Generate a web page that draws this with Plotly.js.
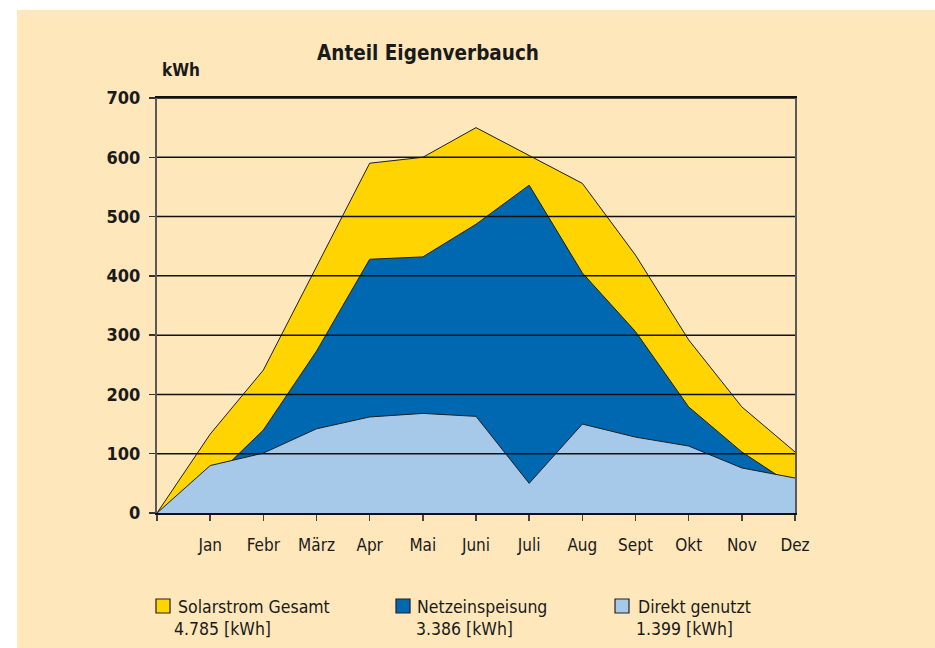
<!DOCTYPE html>
<html>
<head>
<meta charset="utf-8">
<script src="https://cdn.plot.ly/plotly-3.0.1.min.js"></script>
<style>
  html, body { margin: 0; padding: 0; background: #ffffff; }
  #wrap { position: absolute; left: 17px; top: 10px; width: 918px; height: 638px; background: #FEE7BA; }
  #chart { width: 918px; height: 638px; }
</style>
</head>
<body>
<div id="wrap"><div id="chart"></div></div>
<script>
// ---- data ----
const months = ['Jan', 'Febr', 'März', 'Apr', 'Mai', 'Juni', 'Juli', 'Aug', 'Sept', 'Okt', 'Nov', 'Dez'];
const solarGesamt     = [133, 241, 415, 590, 600, 650, 603, 556, 435, 292, 179, 103];
const netzeinspeisung = [ 53, 140, 273, 428, 432, 487, 553, 405, 306, 179, 103,  44];
const direktGenutzt   = [ 80, 101, 142, 162, 168, 163,  50, 150, 128, 113,  76,  59];
const seriesNames  = ['Solarstrom Gesamt', 'Netzeinspeisung', 'Direkt genutzt'];
const seriesTotals = ['4.785 [kWh]', '3.386 [kWh]', '1.399 [kWh]'];
const yTicks = [0, 100, 200, 300, 400, 500, 600, 700];
const chartTitle = 'Anteil Eigenverbauch';
const unitLabel = 'kWh';

// ---- styling ----
const FONT = 'DejaVu Sans Condensed, DejaVu Sans, sans-serif';
const colors = ['#FFD400', '#0068B0', '#A6C9EA'];
const edge = '#1e1e1e';

const xs = [0].concat(months.map((m, i) => i + 1));
const seriesValues = [solarGesamt, netzeinspeisung, direktGenutzt];

const traces = seriesValues.map((vals, i) => ({
  type: 'scatter',
  mode: 'lines',
  name: seriesNames[i],
  x: xs,
  y: [0].concat(vals),
  fill: 'tozeroy',
  fillcolor: colors[i],
  line: { color: edge, width: 1 },
  showlegend: false,
  hoverinfo: 'x+y'
}));

const gridShapes = yTicks.filter(v => v > 0).map(v => ({
  type: 'line', xref: 'paper', yref: 'y', x0: 0, x1: 1, y0: v, y1: v,
  line: { color: '#111111', width: 1.5 }, layer: 'above'
}));

// legend (custom, below plot)
const legendPos = [
  { sq: [-0.0016, 0.0204], t1: 0.0290, t2: 0.0235 },
  { sq: [0.3746, 0.3966], t1: 0.4050, t2: 0.4028 },
  { sq: [0.7179, 0.7398], t1: 0.7514, t2: 0.7476 }
];
const legendShapes = legendPos.map((p, i) => ({
  type: 'rect', xref: 'paper', yref: 'paper',
  x0: p.sq[0], x1: p.sq[1], y0: -0.2072, y1: -0.2410,
  fillcolor: colors[i], line: { color: '#222222', width: 1.2 }, layer: 'above'
}));
const legendAnn = [];
legendPos.forEach((p, i) => {
  legendAnn.push({ xref: 'paper', yref: 'paper', x: p.t1, y: -0.2265, xanchor: 'left', yanchor: 'middle',
    text: seriesNames[i], showarrow: false, font: { family: FONT, size: 17.5, color: '#1a1a1a' } });
  legendAnn.push({ xref: 'paper', yref: 'paper', x: p.t2, y: -0.2795, xanchor: 'left', yanchor: 'middle',
    text: seriesTotals[i], showarrow: false, font: { family: FONT, size: 17.5, color: '#1a1a1a' } });
});

const layout = {
  width: 918, height: 638,
  paper_bgcolor: 'rgba(0,0,0,0)',
  plot_bgcolor: 'rgba(0,0,0,0)',
  margin: { l: 140, r: 140, t: 88, b: 135 },
  showlegend: false,
  title: {
    text: '<b>' + chartTitle + '</b>',
    xref: 'container', yref: 'container',
    x: 0.4477, xanchor: 'center', y: 0.9326, yanchor: 'middle',
    font: { family: FONT, size: 20.5, color: '#1a1a1a' }
  },
  xaxis: {
    range: [0, 12],
    tickmode: 'array',
    tickvals: xs,
    ticktext: [''].concat(months),
    showgrid: false, zeroline: false,
    showline: true, linecolor: '#111111', linewidth: 2, mirror: true,
    ticks: 'outside', ticklen: 6, tickwidth: 1.5, tickcolor: '#444444',
    ticklabelstandoff: 10,
    tickfont: { family: FONT, size: 17, color: '#1a1a1a' },
    fixedrange: true
  },
  yaxis: {
    range: [0, 700],
    tickmode: 'array',
    tickvals: yTicks,
    ticktext: yTicks.map(v => '<b>' + v + '</b>'),
    showgrid: false, zeroline: false,
    showline: true, linecolor: '#5a5a5a', linewidth: 2, mirror: true,
    ticks: 'outside', ticklen: 6, tickwidth: 1.5, tickcolor: '#333333',
    ticklabelstandoff: 5,
    tickfont: { family: FONT, size: 18, color: '#1a1a1a' },
    fixedrange: true
  },
  shapes: gridShapes.concat(legendShapes),
  annotations: [
    { xref: 'paper', yref: 'paper', x: 0.0047, y: 1.0675, xanchor: 'left', yanchor: 'middle',
      text: '<b>' + unitLabel + '</b>', showarrow: false, font: { family: FONT, size: 17, color: '#1a1a1a' } }
  ].concat(legendAnn)
};

Plotly.newPlot('chart', traces, layout, { displayModeBar: false, staticPlot: true });
</script>
</body>
</html>
